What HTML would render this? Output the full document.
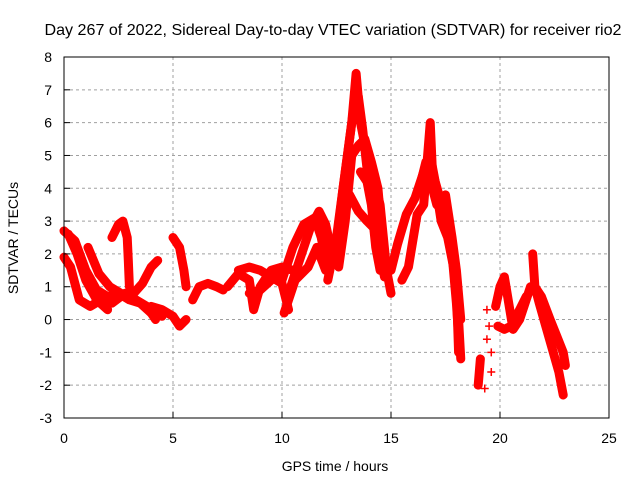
<!DOCTYPE html>
<html><head><meta charset="utf-8"><style>
body{margin:0;background:#fff;width:640px;height:480px;overflow:hidden}
svg text{font-family:"Liberation Sans",sans-serif;fill:#000}
</style></head><body>
<svg id="chart" width="640" height="480" viewBox="0 0 640 480" xmlns="http://www.w3.org/2000/svg">
<rect width="640" height="480" fill="#fff"/>
<g id="grid"></g>
<g id="series"></g>
<rect x="64" y="57" width="545" height="361" fill="none" stroke="#000" stroke-width="1"/>
<g id="axes"></g>
<text x="333" y="35" font-size="16" text-anchor="middle" textLength="577" lengthAdjust="spacingAndGlyphs">Day 267 of 2022, Sidereal Day-to-day VTEC variation (SDTVAR) for receiver rio2</text>
<text x="335" y="471" font-size="14" text-anchor="middle">GPS time / hours</text>
<text x="0" y="0" font-size="14" text-anchor="middle" transform="translate(18,238) rotate(-90)">SDTVAR / TECUs</text>
</svg>
<script>
const xTicks=[0,5,10,15,20,25];
const yTicks=[-3,-2,-1,0,1,2,3,4,5,6,7,8];
const track1=[[0,2.7],[0.5,2.4],[1,1.5],[1.5,0.9],[2,0.7],[2.5,0.8],[3,0.6],[3.5,0.5],[4,0.2],[4.5,0.1]];
const track2=[[0,1.9],[0.3,1.6],[0.7,0.6],[1.2,0.4],[1.7,0.6],[2.2,0.5],[2.8,0.8],[3.3,0.6],[3.8,0.4],[4.2,0.0]];
const track3=[[0.2,2.6],[0.6,2.0],[1,1.2],[1.5,0.6],[2,0.3]];
const track4=[[1.1,2.2],[1.6,1.4],[2.1,1.0],[2.6,0.8]];
const track5=[[2.2,2.5],[2.5,2.9],[2.7,3.0],[2.9,2.5],[2.95,1.8],[3.0,1.0]];
const track6=[[3.2,0.8],[3.6,1.1],[4.0,1.6],[4.3,1.8]];
const track7=[[4.0,0.4],[4.5,0.3],[5.0,0.1],[5.3,-0.2],[5.6,0.0]];
const track8=[[5.0,2.5],[5.3,2.2],[5.5,1.5],[5.6,1.0]];
const track9=[[5.9,0.6],[6.2,1.0],[6.6,1.1],[7.0,1.0],[7.3,0.9]];
const track10=[[7.5,1.0],[8.0,1.4],[8.5,1.2],[8.7,0.3],[9.0,1.0],[9.5,1.5],[10,1.6],[10.5,1.5]];
const track11=[[8.0,1.5],[8.5,1.6],[9.0,1.5],[9.5,1.3],[10,1.1],[10.3,0.3]];
const track12=[[8.5,0.8],[9,0.9],[9.5,1.2],[10,1.4]];
const track13=[[10,1.2],[10.5,2.2],[11,2.9],[11.5,3.1],[11.8,2.5],[12,1.8]];
const track14=[[10.3,0.8],[10.8,1.8],[11.3,2.8],[11.7,3.3],[12,2.9],[12.3,2.0]];
const track15=[[10.1,0.2],[10.6,1.2],[11.2,1.6],[11.6,2.2],[12,1.5]];
const track16=[[12.1,1.2],[12.5,2.5],[12.9,4.5],[13.2,6.0],[13.4,7.5],[13.6,6.0],[13.9,5.0],[14.2,4.3],[14.5,3.5],[14.8,1.5],[15.0,0.8]];
const track17=[[12.6,1.6],[12.9,3.0],[13.2,5.0],[13.5,5.3],[13.8,5.5],[14.1,4.8],[14.4,4.0],[14.6,2.5]];
const track18=[[12.8,3.5],[13.1,3.8],[13.5,3.3],[13.9,3.0],[14.2,2.8],[14.5,2.0],[14.7,1.3]];
const track19=[[15,1.5],[15.3,2.3],[15.7,3.2],[16.1,3.7],[16.5,4.5],[16.8,5.0],[17,4.3],[17.3,3.0],[17.6,2.5],[17.9,1.5],[18.1,0.0],[18.2,-1.2]];
const track20=[[15.5,1.2],[15.8,1.6],[16.2,3.2],[16.5,3.5],[16.8,6.0],[16.9,4.5],[17.2,3.8],[17.5,3.0],[17.8,2.0],[18.0,0.5],[18.1,-0.5]];
const track21=[[17.5,3.8],[17.8,2.5],[18,1.5],[18.2,0.0]];
const track22=[[19.0,-2.0],[19.05,-1.6],[19.1,-1.2]];
const track23=[[19.8,0.4],[20.0,1.0],[20.2,1.3],[20.4,0.5],[20.6,-0.3],[20.9,0.0],[21.2,0.6],[21.4,1.0]];
const track24=[[19.9,-0.2],[20.2,-0.3],[20.5,-0.2],[20.9,0.3],[21.2,0.7]];
const track25=[[21.5,2.0],[21.6,1.0],[21.8,0.5],[22.1,-0.2],[22.4,-0.9],[22.7,-1.6],[22.9,-2.3]];
const track26=[[21.6,1.0],[21.9,0.7],[22.3,0.0],[22.6,-0.5],[22.9,-1.0],[23.0,-1.4]];
const track27=[[12.4,1.8],[12.8,4.0],[13.1,5.5],[13.3,6.5],[13.5,6.8],[13.7,5.8],[14.0,4.0],[14.3,3.0],[14.6,2.0]];
const track28=[[13.6,4.5],[13.9,4.2],[14.1,3.5],[14.3,2.2],[14.5,1.5]];
const track29=[[16.3,4.0],[16.6,4.8],[16.9,4.0],[17.1,3.5],[17.4,3.3],[17.7,2.8],[18.0,1.0],[18.1,-1.0]];
const loosePoints=[[19.4,0.3],[19.5,-0.2],[19.4,-0.6],[19.6,-1.0],[19.6,-1.6],[19.3,-2.1]];
const tracks=[track1,track2,track3,track4,track5,track6,track7,track8,track9,track10,track11,track12,track13,track14,track15,track16,track17,track18,track19,track20,track21,track22,track23,track24,track25,track26,track27,track28,track29];

const X=t=>64+t*21.8;
const Y=v=>57+(8-v)*32.818;
const NS="http://www.w3.org/2000/svg";
const grid=document.getElementById('grid'),axes=document.getElementById('axes'),series=document.getElementById('series');
function mk(tag,attrs,parent){const e=document.createElementNS(NS,tag);for(const k in attrs)e.setAttribute(k,attrs[k]);parent.appendChild(e);return e;}
xTicks.forEach(t=>{
  const x=X(t);
  if(t>0&&t<25){const g=mk('line',{x1:x,x2:x,y1:57,y2:418,stroke:'#a0a0a0','stroke-dasharray':'3,3'},grid);
  
  }
  const tk=mk('line',{x1:x,x2:x,y1:418,y2:412,stroke:'#000'},axes);
  
  
  const lb=mk('text',{x:x,y:443,'font-size':14,'text-anchor':'middle'},axes);lb.textContent=t;
  
  
});
yTicks.forEach(v=>{
  const y=Y(v);
  if(v>-3&&v<8){const g=mk('line',{x1:64,x2:609,y1:y,y2:y,stroke:'#a0a0a0','stroke-dasharray':'3,3'},grid);
  
  }
  const tk=mk('line',{x1:64,x2:70,y1:y,y2:y,stroke:'#000'},axes);
  
  
  const lb=mk('text',{x:52,y:y+5,'font-size':14,'text-anchor':'end'},axes);lb.textContent=v;
  
  
});
function plus(t,v,parent){
  const x=X(t),y=Y(v);
  const p=mk('path',{d:`M${x-4},${y}H${x+4}M${x},${y-4}V${y+4}`,stroke:'#f00','stroke-width':1.5,fill:'none'},parent);
  
  
}
tracks.forEach((tr,i)=>{
  const g=mk('g',{},series);
  
  
  const pl=mk('polyline',{points:tr.map(p=>X(p[0])+','+Y(p[1])).join(' '),fill:'none',stroke:'#f00','stroke-width':9,'stroke-linejoin':'round','stroke-linecap':'round'},g);
  
  
  tr.forEach(p=>plus(p[0],p[1],g));
});
loosePoints.forEach(p=>plus(p[0],p[1],series));
</script>
</body></html>
